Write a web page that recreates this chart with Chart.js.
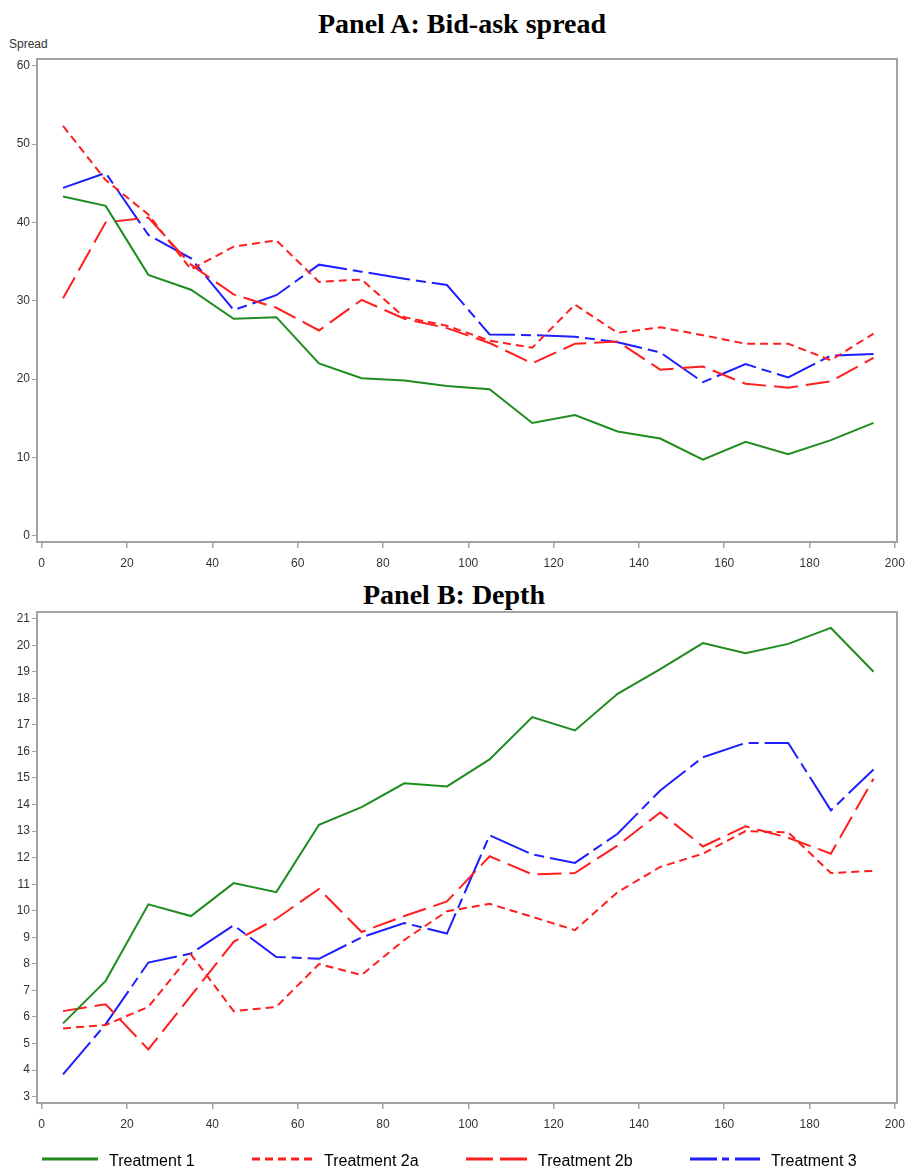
<!DOCTYPE html>
<html>
<head>
<meta charset="utf-8">
<script src="https://cdn.jsdelivr.net/npm/chart.js@4"></script>
<style>
  body { margin: 0; background: #fff; width: 906px; height: 1173px; position: relative; overflow: hidden; font-family: "Liberation Sans", Arial, sans-serif; }
  .title { position: absolute; left: 0; text-align: center; font: bold 28px/28px "Liberation Serif", "Times New Roman", serif; color: #000; white-space: nowrap; }
  .ylab { position: absolute; left: 9px; top: 37px; font-size: 12px; color: #333; }
  .box { position: absolute; left: 0; width: 906px; }
</style>
</head>
<body>
<div class="title" style="top:10px;width:924px">Panel A: Bid-ask spread</div>
<div class="ylab">Spread</div>
<div class="box" style="top:50px;height:522px"><canvas id="spread-chart"></canvas></div>
<div class="title" style="top:581px;width:908px">Panel B: Depth</div>
<div class="box" style="top:605px;height:568px"><canvas id="depth-chart"></canvas></div>
<script>
const periods = [5, 15, 25, 35, 45, 55, 65, 75, 85, 95, 105, 115, 125, 135, 145, 155, 165, 175, 185, 195];
const seriesNames = ['Treatment 1', 'Treatment 2a', 'Treatment 2b', 'Treatment 3'];

// Panel A: bid-ask spread
const spreadT1  = [43.3, 42.1, 33.3, 31.4, 27.7, 27.9, 22.0, 20.1, 19.8, 19.1, 18.7, 14.4, 15.4, 13.3, 12.4, 9.7, 12.0, 10.4, 12.2, 14.4];
const spreadT2a = [52.3, 45.4, 41.0, 34.0, 36.9, 37.7, 32.4, 32.7, 27.9, 26.8, 24.9, 24.0, 29.5, 25.9, 26.6, 25.6, 24.5, 24.5, 22.4, 25.8];
const spreadT2b = [30.3, 40.0, 40.6, 34.6, 30.8, 29.1, 26.2, 30.1, 27.7, 26.5, 24.6, 22.0, 24.5, 24.8, 21.2, 21.6, 19.4, 18.9, 19.7, 22.7];
const spreadT3  = [44.4, 46.3, 38.4, 35.4, 28.8, 30.7, 34.6, 33.7, 32.8, 32.0, 25.7, 25.6, 25.4, 24.7, 23.4, 19.6, 21.9, 20.2, 23.0, 23.2];

// Panel B: depth
const depthT1  = [5.76, 7.36, 10.24, 9.80, 11.04, 10.7, 13.24, 13.9, 14.8, 14.68, 15.7, 17.29, 16.79, 18.17, 19.1, 20.08, 19.7, 20.05, 20.65, 19.0];
const depthT2a = [5.57, 5.7, 6.38, 8.36, 6.22, 6.38, 7.99, 7.58, 8.9, 9.98, 10.26, 9.77, 9.27, 10.7, 11.65, 12.15, 13.0, 12.95, 11.42, 11.5];
const depthT2b = [6.22, 6.48, 4.78, 6.8, 8.83, 9.7, 10.82, 9.2, 9.8, 10.35, 12.05, 11.37, 11.42, 12.46, 13.7, 12.42, 13.18, 12.75, 12.15, 14.97];
const depthT3  = [3.84, 5.73, 8.05, 8.39, 9.45, 8.26, 8.19, 9.0, 9.54, 9.14, 12.84, 12.12, 11.8, 12.9, 14.53, 15.78, 16.32, 16.32, 13.78, 15.32];

const xTicks = [0, 20, 40, 60, 80, 100, 120, 140, 160, 180, 200];
const spreadTicks = [0, 10, 20, 30, 40, 50, 60];
const depthTicks = [3, 4, 5, 6, 7, 8, 9, 10, 11, 12, 13, 14, 15, 16, 17, 18, 19, 20, 21];

const colors = ['#1e8c1e', '#ff1e1e', '#ff1e1e', '#1e1eff'];
const dashes = [[], [8, 5], [24, 8], [42, 6, 10, 6]];
const legendDashes = [[], [8, 5], [27, 7], [27, 5, 7, 6]];

function makeDatasets(lists) {
    return lists.map(function (vals, i) {
        return {
            label: seriesNames[i],
            data: vals.map(function (v, j) { return { x: periods[j], y: v }; }),
            borderColor: colors[i],
            borderDash: dashes[i],
            borderWidth: 2,
            pointRadius: 0,
            fill: false,
            tension: 0
        };
    });
}

// gray frame round the plot area
const framePlugin = {
    id: 'frame',
    afterDatasetsDraw(chart) {
        const a = chart.chartArea, ctx = chart.ctx;
        ctx.save();
        ctx.strokeStyle = '#a3a3a3';
        ctx.lineWidth = 2;
        ctx.setLineDash([]);
        ctx.strokeRect(a.left, a.top, a.right - a.left, a.bottom - a.top);
        ctx.restore();
    }
};

// legend drawn under panel B, one item per dataset
const legendLeft = [42, 252, 466, 690];
const legendLen = [56, 61, 61, 70];
const bottomLegend = {
    id: 'bottomLegend',
    afterDraw(chart) {
        const ctx = chart.ctx;
        const y = chart.height - 14;
        ctx.save();
        chart.data.datasets.forEach(function (ds, i) {
            ctx.beginPath();
            ctx.strokeStyle = ds.borderColor;
            ctx.lineWidth = 3;
            ctx.setLineDash(legendDashes[i]);
            ctx.moveTo(legendLeft[i], y);
            ctx.lineTo(legendLeft[i] + legendLen[i], y);
            ctx.stroke();
            ctx.setLineDash([]);
            ctx.fillStyle = '#000';
            ctx.font = '16px "Liberation Sans", Arial, sans-serif';
            ctx.textBaseline = 'alphabetic';
            ctx.fillText(ds.label, legendLeft[i] + legendLen[i] + 11, y + 7);
        });
        ctx.restore();
    }
};

function makeChart(id, lists, yMin, yMax, yTicks, padding, plugins) {
    const tickFont = { family: '"Liberation Sans", Arial, sans-serif', size: 12 };
    return new Chart(document.getElementById(id).getContext('2d'), {
        type: 'line',
        data: { datasets: makeDatasets(lists) },
        options: {
            responsive: true,
            maintainAspectRatio: false,
            animation: false,
            layout: { padding: padding },
            plugins: { legend: { display: false }, tooltip: { enabled: false } },
            scales: {
                x: {
                    type: 'linear',
                    min: -1.1,
                    max: 200.5,
                    afterBuildTicks: function (s) { s.ticks = xTicks.map(function (v) { return { value: v }; }); },
                    afterFit: function (s) { s.height = 30; s.paddingLeft = 0; s.paddingRight = 0; },
                    border: { display: false },
                    grid: { drawOnChartArea: false, drawTicks: true, tickLength: 6, color: '#a3a3a3', lineWidth: 1.5 },
                    ticks: { color: '#333', font: tickFont, padding: 8, maxRotation: 0, autoSkip: false }
                },
                y: {
                    min: yMin,
                    max: yMax,
                    afterBuildTicks: function (s) { s.ticks = yTicks.map(function (v) { return { value: v }; }); },
                    afterFit: function (s) { s.width = 37; s.paddingTop = 0; s.paddingBottom = 0; },
                    border: { display: false },
                    grid: { drawOnChartArea: false, drawTicks: true, tickLength: 5, color: '#a3a3a3', lineWidth: 1 },
                    ticks: { color: '#333', font: tickFont, padding: 2, autoSkip: false }
                }
            }
        },
        plugins: plugins
    });
}

makeChart('spread-chart', [spreadT1, spreadT2a, spreadT2b, spreadT3], -0.8, 60.85, spreadTicks,
    { top: 9, right: 9, bottom: 0, left: 0 }, [framePlugin]);
makeChart('depth-chart', [depthT1, depthT2a, depthT2b, depthT3], 2.76, 21.25, depthTicks,
    { top: 7, right: 9, bottom: 40, left: 0 }, [framePlugin, bottomLegend]);
</script>
</body>
</html>
